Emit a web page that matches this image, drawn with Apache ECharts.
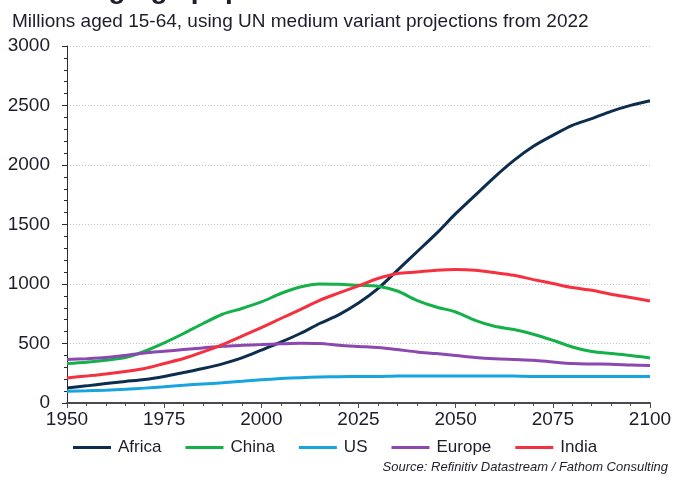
<!DOCTYPE html>
<html>
<head>
<meta charset="utf-8">
<script src="https://cdn.jsdelivr.net/npm/echarts@6/dist/echarts.min.js"></script>
<style>
  html, body { margin: 0; padding: 0; background: #ffffff; }
  #chart { width: 675px; height: 477px; }
</style>
</head>
<body>
<div id="chart"></div>
<script>
// Working-age population (millions, aged 15-64), five-year steps
const years = [1950, 1955, 1960, 1965, 1970, 1975, 1980, 1985, 1990, 1995,
               2000, 2005, 2010, 2015, 2020, 2025, 2030, 2035, 2040, 2045,
               2050, 2055, 2060, 2065, 2070, 2075, 2080, 2085, 2090, 2095, 2100];

const africa = [127, 144, 164, 181, 197, 223, 256, 290, 329, 379,
                444, 511, 584, 668, 743, 840, 961, 1115, 1269, 1423,
                1591, 1745, 1899, 2039, 2157, 2249, 2333, 2389, 2451, 2501, 2540];
const china  = [331, 343, 360, 382, 435, 505, 584, 668, 746, 794,
                849, 920, 975, 1000, 998, 989, 981, 941, 863, 807,
                765, 695, 645, 617, 578, 527, 471, 432, 415, 399, 379];
const us     = [98, 102, 107, 115, 125, 137, 150, 160, 170, 182,
                195, 205, 213, 218, 221, 222, 222, 226, 226, 226,
                226, 226, 226, 226, 222, 222, 222, 222, 222, 222, 222];
const europe = [365, 372, 382, 400, 421, 435, 449, 463, 477, 485,
                491, 497, 502, 500, 485, 475, 466, 449, 429, 415,
                399, 382, 371, 365, 359, 345, 332, 328, 326, 320, 315];
const india  = [211, 227, 244, 265, 290, 332, 374, 429, 491, 561,
                634, 710, 785, 863, 925, 985, 1046, 1088, 1101, 1115,
                1121, 1115, 1096, 1073, 1037, 1004, 970, 947, 914, 886, 857];

const seriesNames = ['Africa', 'China', 'US', 'Europe', 'India'];
const seriesData = [africa, china, us, europe, india];
const seriesColors = ['#0c2d4d', '#15b04a', '#18a4e0', '#8b48b0', '#f5303f'];

const yTicks = { min: 0, max: 3000, step: 500 };
const xTicks = { min: 1950, max: 2100, step: 25 };

const textColor = '#1d1d2b';
const fontFamily = '"Liberation Sans", Arial, sans-serif';

const chart = echarts.init(document.getElementById('chart'), null, { renderer: 'canvas' });

chart.setOption({
  backgroundColor: '#ffffff',
  animation: false,
  textStyle: { fontFamily: fontFamily, color: textColor },
  graphic: [
    {
      type: 'text', left: 14, top: -24,
      style: { text: 'Working-age populations', font: 'bold 28px ' + fontFamily, fill: textColor }
    },
    {
      type: 'text', left: 12, top: 12,
      style: { text: 'Millions aged 15-64, using UN medium variant projections from 2022',
               font: '19px ' + fontFamily, fill: textColor }
    },
    {
      type: 'text', right: 7, top: 461,
      style: { text: 'Source: Refinitiv Datastream / Fathom Consulting',
               font: 'italic 13px ' + fontFamily, fill: textColor }
    }
  ],
  grid: { left: 67, right: 25, top: 46, bottom: 74, containLabel: false },
  legend: {
    data: seriesNames,
    left: 73, top: 439,
    padding: 0,
    icon: 'rect',
    itemWidth: 38, itemHeight: 3,
    itemGap: 24,
    textStyle: { fontSize: 17, color: textColor, fontFamily: fontFamily, padding: [0, 0, 0, 2] }
  },
  xAxis: {
    type: 'value',
    min: xTicks.min, max: xTicks.max, interval: xTicks.step,
    axisLine: { show: true, onZero: false, lineStyle: { color: '#4a4a52', width: 2 } },
    axisTick: { show: true, length: 5, lineStyle: { color: '#4a4a52', width: 1 } },
    minorTick: { show: true, splitNumber: 5, length: 3, lineStyle: { color: '#4a4a52' } },
    splitLine: { show: false },
    axisLabel: { fontSize: 19, color: textColor, margin: 7, fontFamily: fontFamily,
                 formatter: v => String(v) }
  },
  yAxis: {
    type: 'value',
    min: yTicks.min, max: yTicks.max, interval: yTicks.step,
    axisLine: { show: true, lineStyle: { color: '#2a2a33', width: 1 } },
    axisTick: { show: true, length: 5, lineStyle: { color: '#2a2a33' } },
    minorTick: { show: true, splitNumber: 5, length: 3, lineStyle: { color: '#2a2a33' } },
    splitLine: { show: true, lineStyle: { color: '#c4c4c4', type: [1, 2], width: 1 } },
    axisLabel: { fontSize: 19, color: textColor, margin: 17, fontFamily: fontFamily,
                 formatter: v => String(v) }
  },
  series: seriesNames.map((name, i) => ({
    name: name,
    type: 'line',
    data: years.map((yr, j) => [yr, seriesData[i][j]]),
    showSymbol: false,
    smooth: 0.3,
    lineStyle: { color: seriesColors[i], width: 3 },
    itemStyle: { color: seriesColors[i] }
  }))
});
</script>
</body>
</html>
